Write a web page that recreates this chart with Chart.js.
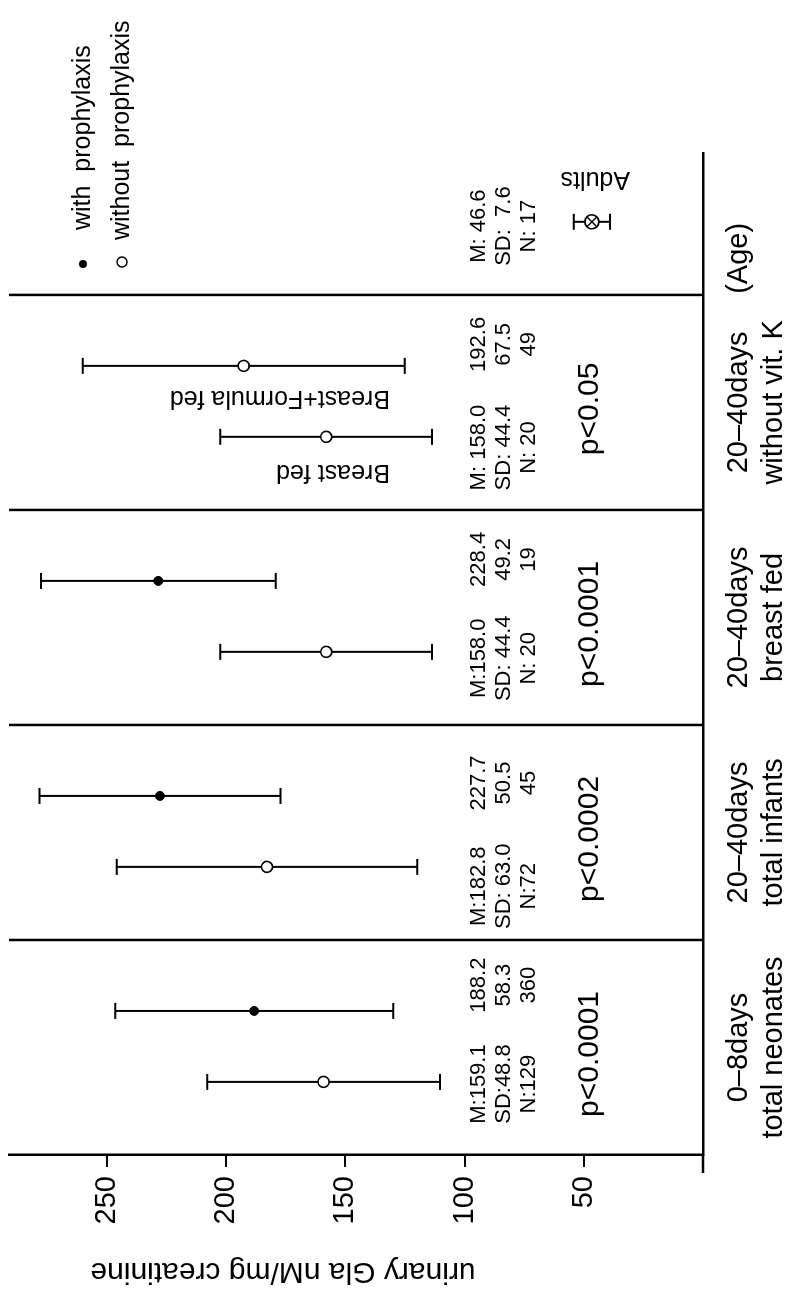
<!DOCTYPE html>
<html>
<head>
<meta charset="utf-8">
<title>Urinary Gla excretion by age group</title>
<script src="https://cdn.jsdelivr.net/npm/chart.js@4.4.1/dist/chart.umd.min.js"></script>
<style>
  html, body { margin: 0; padding: 0; background: #fff; overflow: hidden; }
  body { width: 793px; height: 1294px; position: relative; }
  /* the figure is laid out landscape and turned a quarter turn onto the page */
  #wrap { position: absolute; left: 0; top: 0; width: 1294px; height: 793px;
          transform-origin: 0 0; transform: translate(0, 1294px) rotate(-90deg); }
  canvas { display: block; }
</style>
</head>
<body>
<div id="wrap"><canvas id="chart" width="1294" height="793"></canvas></div>
<script>
// ---- data ----------------------------------------------------------------
// age groups along the category axis
const groupLabels = [
  ['0–8days', 'total neonates'],
  ['20–40days', 'total infants'],
  ['20–40days', 'breast fed'],
  ['20–40days', 'without vit. K'],
  ['']
];
const axisAgeLabel = '(Age)';

// measured subgroups (two per infant group, one for adults)
const subGroup       = [0, 0, 1, 1, 2, 2, 3, 3, 4];
const subProphylaxis = [false, true, false, true, false, true, false, false, false];
const subMean        = [159.1, 188.2, 182.8, 227.7, 158.0, 228.4, 158.0, 192.6, 46.6];
const subSD          = [48.8, 58.3, 63.0, 50.5, 44.4, 49.2, 44.4, 67.5, 7.6];
const subN           = [129, 360, 72, 45, 20, 19, 20, 49, 17];
const subNote        = ['', '', '', '', '', '', 'Breast fed', 'Breast+Formula fed', 'Adults'];

// significance of the difference inside each group
const pValues = ['p<0.0001', 'p<0.0002', 'p<0.0001', 'p<0.05', ''];

// spacing used after "M:", "SD:", "N:" in each group's summary
const gapM  = ['', '', '', ' ', ' '];
const gapSD = ['', ' ', ' ', ' ', '  '];
const gapN  = ['', '', ' ', ' ', ' '];

const valueTicks = [0, 50, 100, 150, 200, 250];
const yTitle = 'urinary Gla nM/mg creatinine';
const legendItems = ['with  prophylaxis', 'without  prophylaxis'];

// ---- layout --------------------------------------------------------------
const FONT = '"Liberation Sans", Arial, Helvetica, sans-serif';
const SLOT_OFFSET = [0.34, 0.67];          // position of 1st / 2nd subgroup inside a group
const X_MAX = 4.66;
const Y_MAX = 291;
const statColLeft  = [0.33, 1.25, 2.31, 3.29, 4.32];
const statColRight = [0.79, 1.73, 2.77, 3.77, null];
const pValueX = [0.47, 1.47, 2.47, 3.47, null];
const agePos = 4.17;

// slot of each subgroup within its group
const subSlot = subGroup.map((g, i) => subGroup.slice(0, i).filter(h => h === g).length);
const subX = subGroup.map((g, i) => g + SLOT_OFFSET[subSlot[i]]);

const idxWith    = subMean.map((_, i) => i).filter(i => subProphylaxis[i]);
const idxWithout = subMean.map((_, i) => i).filter(i => !subProphylaxis[i] && subGroup[i] < 4);
const idxAdults  = subMean.map((_, i) => i).filter(i => subGroup[i] === 4);
const pts = idx => idx.map(i => ({ x: subX[i], y: subMean[i] }));

const tickValues = groupLabels.slice(0, 4).map((_, g) => g + 0.5).concat([agePos]);
const tickLabels = groupLabels.slice(0, 4).concat([[axisAgeLabel, '']]);

// ---- plugins -------------------------------------------------------------
const errorBars = {
  id: 'errorBars',
  beforeDatasetsDraw(chart) {
    const { ctx, scales: { x, y } } = chart;
    ctx.save();
    ctx.strokeStyle = '#000';
    ctx.lineWidth = 2;
    subMean.forEach((m, i) => {
      const px = x.getPixelForValue(subX[i]);
      const lo = y.getPixelForValue(m - subSD[i]);
      const hi = y.getPixelForValue(m + subSD[i]);
      ctx.beginPath();
      ctx.moveTo(px, lo); ctx.lineTo(px, hi);
      ctx.moveTo(px - 8, lo); ctx.lineTo(px + 8, lo);
      ctx.moveTo(px - 8, hi); ctx.lineTo(px + 8, hi);
      ctx.stroke();
    });
    ctx.restore();
  }
};

const frame = {
  id: 'frame',
  beforeDatasetsDraw(chart) {
    const { ctx, chartArea: ca, scales: { x } } = chart;
    ctx.save();
    ctx.strokeStyle = '#000';
    ctx.lineWidth = 2.5;
    ctx.beginPath();
    for (let g = 1; g < groupLabels.length; g++) {
      const px = x.getPixelForValue(g);
      ctx.moveTo(px, ca.top); ctx.lineTo(px, ca.bottom);
    }
    // category axis runs a little past the value axis
    ctx.moveTo(ca.left - 18, ca.bottom); ctx.lineTo(ca.left, ca.bottom);
    ctx.stroke();
    ctx.restore();
  }
};

const annotations = {
  id: 'annotations',
  afterDatasetsDraw(chart) {
    const { ctx, chartArea: ca, scales: { x, y } } = chart;
    ctx.save();
    ctx.fillStyle = '#000';

    // summary statistics
    ctx.font = '22px ' + FONT;
    ctx.textAlign = 'center';
    ctx.textBaseline = 'alphabetic';
    const rowY = [ca.bottom - 218, ca.bottom - 193, ca.bottom - 168];
    groupLabels.forEach((_, g) => {
      const members = subGroup.map((h, i) => h === g ? i : -1).filter(i => i >= 0);
      const a = members[0];
      const lx = x.getPixelForValue(statColLeft[g]);
      ctx.fillText('M:' + gapM[g] + subMean[a].toFixed(1), lx, rowY[0]);
      ctx.fillText('SD:' + gapSD[g] + subSD[a].toFixed(1), lx, rowY[1]);
      ctx.fillText('N:' + gapN[g] + subN[a], lx, rowY[2]);
      if (members.length > 1) {
        const b = members[1];
        const rx = x.getPixelForValue(statColRight[g]);
        ctx.fillText(subMean[b].toFixed(1), rx, rowY[0]);
        ctx.fillText(subSD[b].toFixed(1), rx, rowY[1]);
        ctx.fillText(String(subN[b]), rx, rowY[2]);
      }
    });

    // p values
    ctx.font = '30px ' + FONT;
    pValues.forEach((p, g) => {
      if (p) ctx.fillText(p, x.getPixelForValue(pValueX[g]), ca.bottom - 105);
    });

    // subgroup names, written the other way up
    ctx.font = '25px ' + FONT;
    ctx.textAlign = 'left';
    subNote.forEach((t, i) => {
      if (!t) return;
      const px = x.getPixelForValue(subX[i]);
      const isAdult = subGroup[i] === 4;
      const bx = isAdult ? px + 50 : px - (subSlot[i] === 0 ? 28 : 25);
      const by = isAdult ? ca.top + 621 : ca.top + 381;
      ctx.save();
      ctx.translate(bx, by);
      ctx.rotate(-Math.PI / 2);
      ctx.fillText(t, 0, 0);
      ctx.restore();
    });

    // legend
    ctx.font = '25px ' + FONT;
    ctx.textBaseline = 'middle';
    const lgX = ca.right - 111;
    const rows = [ca.top + 74, ca.top + 113];
    const textX = [ca.right - 77, ca.right - 87];
    ctx.lineWidth = 1.5;
    ctx.strokeStyle = '#000';
    ctx.beginPath(); ctx.arc(lgX, rows[0], 4, 0, Math.PI * 2); ctx.fill();
    ctx.beginPath(); ctx.arc(lgX + 2, rows[1], 5, 0, Math.PI * 2); ctx.stroke();
    ctx.fillText(legendItems[0], textX[0], rows[0]);
    ctx.fillText(legendItems[1], textX[1], rows[1]);

    // value axis title
    ctx.font = '30px ' + FONT;
    ctx.textAlign = 'center';
    ctx.textBaseline = 'alphabetic';
    ctx.save();
    ctx.translate(31, ca.top + 274);
    ctx.rotate(-Math.PI / 2);
    ctx.fillText(yTitle, 0, 0);
    ctx.restore();

    ctx.restore();
  }
};

// ---- chart ---------------------------------------------------------------
Chart.defaults.font.family = FONT;
Chart.defaults.color = '#000';

new Chart(document.getElementById('chart'), {
  type: 'scatter',
  data: {
    datasets: [
      { label: 'with prophylaxis', data: pts(idxWith), pointStyle: 'circle', pointRadius: 4.5,
        backgroundColor: '#000', borderColor: '#000', borderWidth: 1, order: 2 },
      { label: 'without prophylaxis', data: pts(idxWithout), pointStyle: 'circle', pointRadius: 5.5,
        backgroundColor: '#fff', borderColor: '#000', borderWidth: 1.6, order: 2 },
      { label: 'Adults', data: pts(idxAdults), pointStyle: 'circle', pointRadius: 7,
        backgroundColor: '#fff', borderColor: '#000', borderWidth: 1.6, order: 1 },
      // the cross inside the adults' circle, drawn on top of it
      { label: 'Adults', data: pts(idxAdults), pointStyle: 'crossRot', pointRadius: 6.5,
        backgroundColor: '#000', borderColor: '#000', borderWidth: 1.4, order: 0 }
    ]
  },
  options: {
    responsive: false,
    animation: false,
    devicePixelRatio: 1,
    layout: { padding: { left: 0, top: 9, right: 153, bottom: 0 } },
    plugins: { legend: { display: false }, tooltip: { enabled: false } },
    scales: {
      x: {
        type: 'linear', min: 0, max: X_MAX,
        afterBuildTicks: a => { a.ticks = tickValues.map(v => ({ value: v })); },
        ticks: {
          autoSkip: false, maxRotation: 0, minRotation: 0, padding: 18,
          font: { size: 29, lineHeight: 1.22 },
          callback: (v, i) => tickLabels[i]
        },
        grid: { display: true, drawOnChartArea: false, drawTicks: false, tickLength: 0, color: 'rgba(0,0,0,0)' },
        border: { display: true, color: '#000', width: 2.5 },
        afterFit: s => { s.height = 90; s.paddingLeft = 0; s.paddingRight = 0; }
      },
      y: {
        type: 'linear', min: 0, max: Y_MAX,
        afterBuildTicks: a => { a.ticks = valueTicks.map(v => ({ value: v })); },
        ticks: { padding: 9, font: { size: 29 }, callback: v => (v === 0 ? '' : String(v)) },
        grid: { display: true, drawOnChartArea: false, drawTicks: true, tickLength: 12, color: '#000', lineWidth: 2 },
        border: { display: true, color: '#000', width: 2.5 },
        afterFit: s => { s.width = 139; s.paddingTop = 0; s.paddingBottom = 0; }
      }
    }
  },
  plugins: [frame, errorBars, annotations]
});
</script>
</body>
</html>
